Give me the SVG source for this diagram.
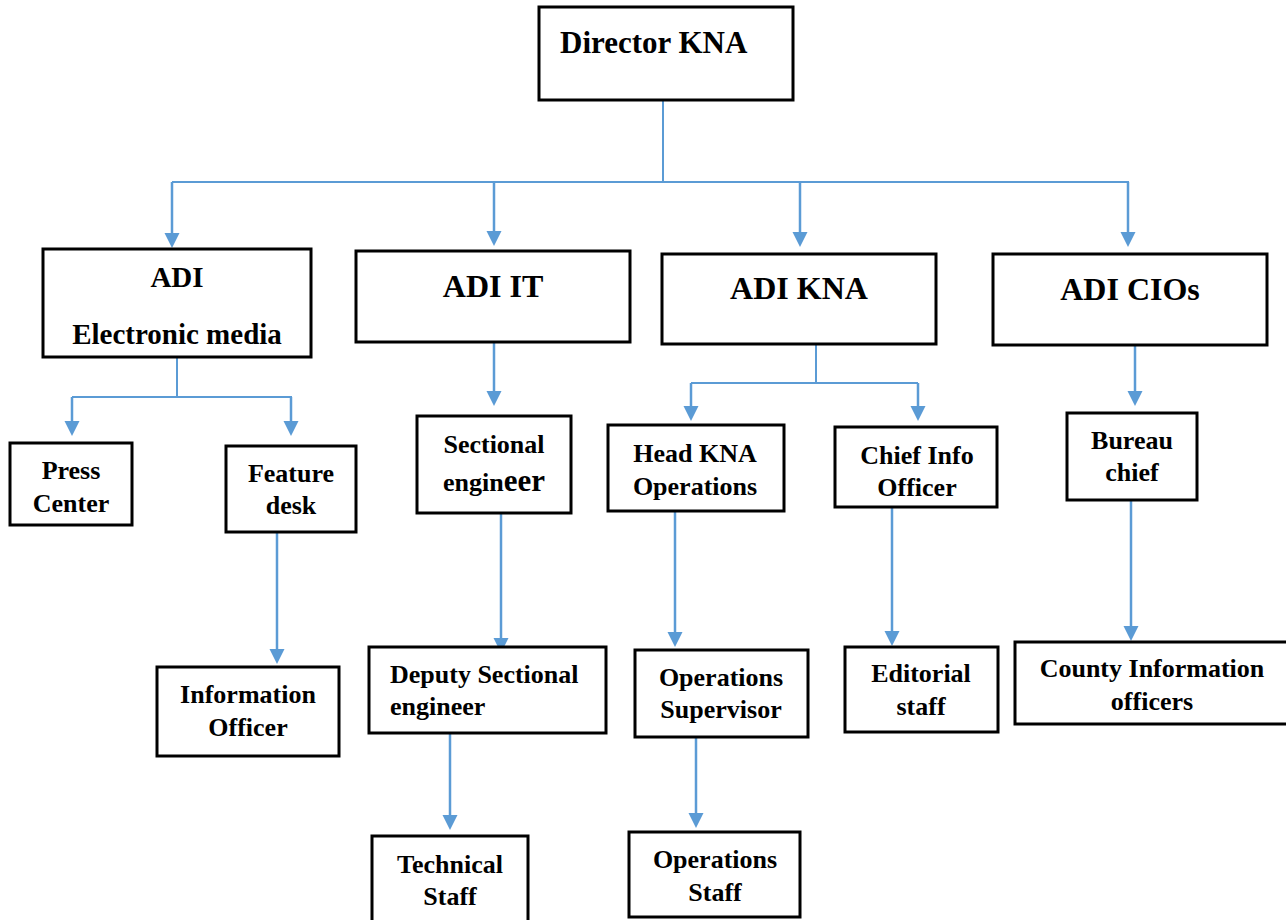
<svg xmlns="http://www.w3.org/2000/svg" width="1286" height="920" viewBox="0 0 1286 920" font-family="'Liberation Serif', 'Times New Roman', serif">
<style>
.box{fill:#fff;stroke:#000;stroke-width:3}
.t{font-family:'Liberation Serif','Times New Roman',serif;font-weight:700;fill:#000;text-anchor:middle}
.st{text-anchor:start}
.h{font-size:32px}
.s{font-size:26px}
.c{fill:none;stroke:#5B9BD5;stroke-width:2}
.a{fill:none;stroke:#5B9BD5;stroke-width:2.5;marker-end:url(#ah)}
</style>
<defs>
<marker id="ah" markerUnits="userSpaceOnUse" markerWidth="16" markerHeight="16" refX="10" refY="7.5" orient="auto">
<path d="M0,0 L15,7.5 L0,15 Z" fill="#5B9BD5"/>
</marker>
</defs>
<rect width="1286" height="920" fill="#fff"/>
<g id="connectors">
<path class="c" d="M663,100 V182"/>
<path class="c" d="M172,182 H1129"/>
<path class="a" d="M172,182 V243"/>
<path class="a" d="M494,182 V241"/>
<path class="a" d="M800,182 V242"/>
<path class="a" d="M1128,182 V242"/>
<path class="c" d="M177,357 V397"/>
<path class="c" d="M72,397 H292"/>
<path class="a" d="M72,397 V431"/>
<path class="a" d="M291,397 V431"/>
<path class="a" d="M494,342 V401"/>
<path class="a" d="M501,513 V648"/>
<path class="a" d="M450,733 V825"/>
<path class="a" d="M277,532 V659"/>
<path class="c" d="M816,344 V383"/>
<path class="c" d="M691,383 H918"/>
<path class="a" d="M691,383 V416"/>
<path class="a" d="M918,383 V416"/>
<path class="a" d="M675,511 V642"/>
<path class="a" d="M696,737 V823"/>
<path class="a" d="M892,507 V641"/>
<path class="a" d="M1135,345 V401"/>
<path class="a" d="M1131,500 V636"/>
</g>
<g id="director">
<rect class="box" x="539" y="7" width="254" height="93"/>
<text class="t st" x="560" y="53" font-size="31">Director KNA</text>
</g>
<g id="adi-em">
<rect class="box" x="43" y="249" width="268" height="108"/>
<text class="t" x="177" y="287" font-size="29">ADI</text>
<text class="t" x="177" y="344" font-size="29">Electronic media</text>
</g>
<g id="adi-it">
<rect class="box" x="356" y="251" width="274" height="91"/>
<text class="t h" x="493" y="297">ADI IT</text>
</g>
<g id="adi-kna">
<rect class="box" x="662" y="254" width="274" height="90"/>
<text class="t h" x="799" y="299">ADI KNA</text>
</g>
<g id="adi-cios">
<rect class="box" x="993" y="254" width="274" height="91"/>
<text class="t h" x="1130" y="300">ADI CIOs</text>
</g>
<g id="press-center">
<rect class="box" x="10" y="443" width="122" height="82"/>
<text class="t s" x="71" y="479">Press</text>
<text class="t s" x="71" y="512">Center</text>
</g>
<g id="feature-desk">
<rect class="box" x="226" y="446" width="130" height="86"/>
<text class="t s" x="291" y="482">Feature</text>
<text class="t s" x="291" y="514">desk</text>
</g>
<g id="sectional-engineer">
<rect class="box" x="417" y="416" width="154" height="97"/>
<text class="t s" x="494" y="453">Sectional</text>
<text class="t s" x="494" y="491">engin<tspan font-size="31">eer</tspan></text>
</g>
<g id="head-kna-operations">
<rect class="box" x="608" y="425" width="176" height="86"/>
<text class="t s" x="695" y="462">Head KNA</text>
<text class="t s" x="695" y="495">Operations</text>
</g>
<g id="chief-info-officer">
<rect class="box" x="835" y="427" width="162" height="80"/>
<text class="t s" x="917" y="464">Chief Info</text>
<text class="t s" x="917" y="496">Officer</text>
</g>
<g id="bureau-chief">
<rect class="box" x="1067" y="413" width="130" height="87"/>
<text class="t s" x="1132" y="449">Bureau</text>
<text class="t s" x="1132" y="481">chief</text>
</g>
<g id="information-officer">
<rect class="box" x="157" y="667" width="182" height="89"/>
<text class="t s" x="248" y="703">Information</text>
<text class="t s" x="248" y="736">Officer</text>
</g>
<g id="deputy-sectional-engineer">
<rect class="box" x="369" y="647" width="237" height="86"/>
<text class="t s st" x="390" y="683">Deputy Sectional</text>
<text class="t s st" x="390" y="715">engineer</text>
</g>
<g id="operations-supervisor">
<rect class="box" x="635" y="650" width="173" height="87"/>
<text class="t s" x="721" y="686">Operations</text>
<text class="t s" x="721" y="718">Supervisor</text>
</g>
<g id="editorial-staff">
<rect class="box" x="845" y="647" width="153" height="85"/>
<text class="t s" x="921" y="682">Editorial</text>
<text class="t s" x="921" y="715">staff</text>
</g>
<g id="county-information-officers">
<rect class="box" x="1015" y="642" width="280" height="82"/>
<text class="t s" x="1152" y="677">County Information</text>
<text class="t s" x="1152" y="710">officers</text>
</g>
<g id="technical-staff">
<rect class="box" x="372" y="836" width="156" height="100"/>
<text class="t s" x="450" y="873">Technical</text>
<text class="t s" x="450" y="905">Staff</text>
</g>
<g id="operations-staff">
<rect class="box" x="629" y="832" width="171" height="85"/>
<text class="t s" x="715" y="868">Operations</text>
<text class="t s" x="715" y="901">Staff</text>
</g>
</svg>
